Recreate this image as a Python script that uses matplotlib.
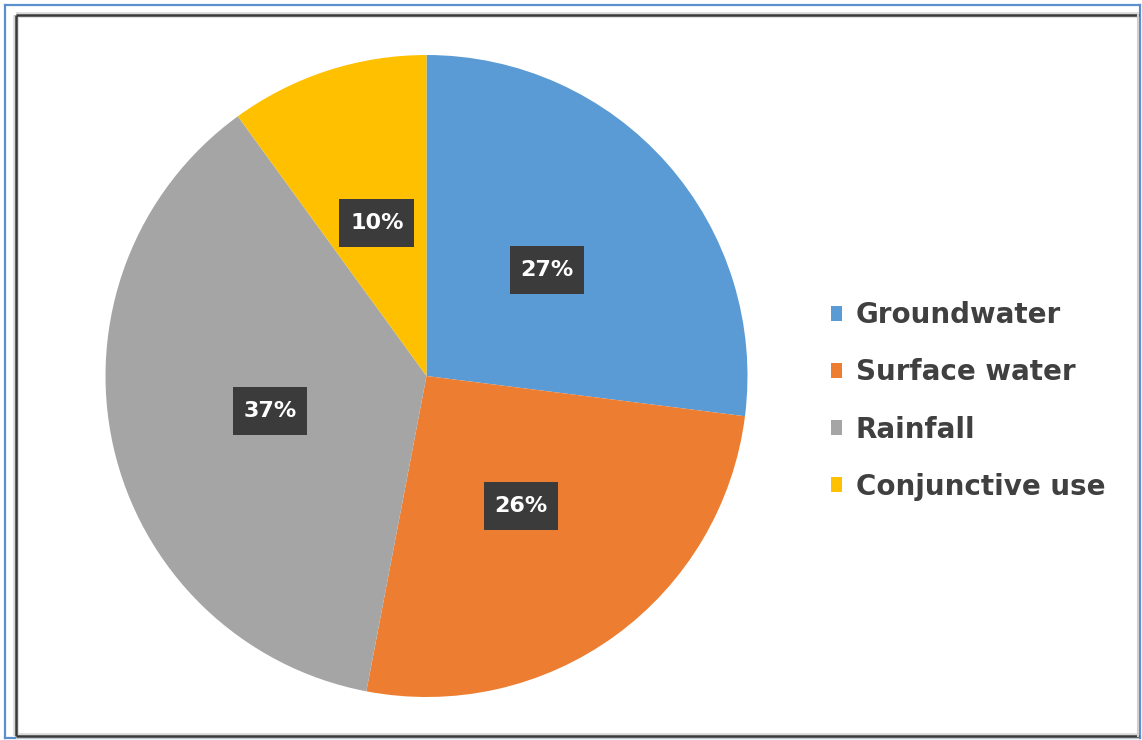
import matplotlib
matplotlib.use("Agg")
import matplotlib.pyplot as plt
from matplotlib.lines import Line2D

categories = ["Groundwater", "Surface water", "Rainfall", "Conjunctive use"]
values = [27, 26, 37, 10]
colors = ["#5B9BD5", "#ED7D31", "#A5A5A5", "#FFC000"]

W, H = 1142, 740
fig = plt.figure(figsize=(W / 100, H / 100), dpi=100)
fig.patch.set_facecolor("white")

def px(x, y):
    return x / W, 1 - y / H

# outer blue border
for (x0, y0, x1, y1) in [(5, 5, 1140, 5), (5, 5, 5, 738), (5, 738, 1140, 738), (1140, 5, 1140, 738)]:
    a, b = px(x0, y0); c, d = px(x1, y1)
    fig.add_artist(Line2D([a, c], [b, d], color="#5B8FD0", lw=1.6, transform=fig.transFigure))
# inner frame with soft shadow
for lw, col in [(4.0, "#d8d8d8"), (1.8, "#3a3a3a")]:
    for (x0, y0, x1, y1) in [(16, 15, 1139, 15), (16, 15, 16, 736), (16, 736, 1139, 736)]:
        a, b = px(x0, y0); c, d = px(x1, y1)
        fig.add_artist(Line2D([a, c], [b, d], color=col, lw=lw, transform=fig.transFigure,
                              solid_capstyle="butt"))
a, b = px(1138, 15); c, d = px(1138, 736)
fig.add_artist(Line2D([a, c], [b, d], color="#cfcfcf", lw=1.5, transform=fig.transFigure))

# pie axes: centre (426.5, 376), radius 321 px
cx, cy, r = 426.5, 376, 321
ax = fig.add_axes([(cx - r) / W, (H - cy - r) / H, 2 * r / W, 2 * r / H])
wedges, texts, autotexts = ax.pie(
    values, colors=colors, startangle=90, counterclock=False,
    autopct="%d%%", pctdistance=0.5, radius=1,
    wedgeprops=dict(linewidth=0),
    textprops=dict(color="white", fontsize=16, fontweight="bold"),
)
for t in autotexts:
    t.set_bbox(dict(boxstyle="square,pad=0.48", facecolor="#3b3b3b", edgecolor="none",
                    mutation_aspect=1.3))
ax.set_xlim(-1, 1)
ax.set_ylim(-1, 1)
ax.set_aspect("equal")
ax.axis("off")

leg = fig.legend(
    wedges, categories, loc="center left",
    bbox_to_anchor=(831 / W, 1 - 401 / H), bbox_transform=fig.transFigure,
    frameon=False, handlelength=0.4, handleheight=0.45,
    handletextpad=0.5, labelspacing=1.05, borderpad=0, borderaxespad=0,
    prop=dict(weight="bold", size=20),
)
for t in leg.get_texts():
    t.set_color("#404040")

fig.savefig("out.png", dpi=100, facecolor="white")
